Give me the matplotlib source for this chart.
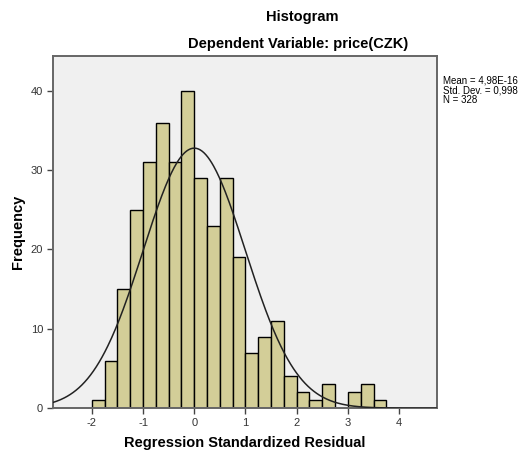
import numpy as np
import matplotlib
matplotlib.use("Agg")
import matplotlib.pyplot as plt

plt.rcParams['font.family'] = ['Liberation Sans', 'DejaVu Sans']

bin_edges_start = -2.0
bin_width = 0.25
counts = [1, 6, 15, 25, 31, 36, 31, 40, 29, 23, 29, 19, 7, 9, 11, 4, 2, 1, 3, 0, 2, 3, 1]
mean = 4.98e-16
sd = 0.998
n = 328
xticks = [-2, -1, 0, 1, 2, 3, 4]
yticks = [0, 10, 20, 30, 40]

fig = plt.figure(figsize=(5.24, 4.55), dpi=100)
ax = fig.add_axes([0.101, 0.103, 0.733, 0.774])
ax.set_facecolor('#f0f0f0')

lefts = bin_edges_start + bin_width * np.arange(len(counts))
ax.bar(lefts, counts, width=bin_width, align='edge', color='#d3ce98',
       edgecolor='black', linewidth=1.0, zorder=2)

xs = np.linspace(-2.76, 4.74, 400)
ys = n * bin_width * np.exp(-0.5 * ((xs - mean) / sd) ** 2) / (sd * np.sqrt(2 * np.pi))
ax.plot(xs, ys, color='#222222', linewidth=1.1, zorder=3)

ax.set_xlim(-2.76, 4.74)
ax.set_ylim(0, 44.4)
ax.set_xticks(xticks)
ax.set_xticklabels([str(t) for t in xticks])
ax.set_yticks(yticks)
ax.tick_params(axis='both', direction='out', length=4, width=1.0, labelsize=8,
               color='#444444', labelcolor='#333333', pad=3)
for s in ax.spines.values():
    s.set_color('#666666')
    s.set_linewidth(1.4)

ax.set_xlabel('Regression Standardized Residual', fontsize=10.5, fontweight='bold', labelpad=6)
ax.set_ylabel('Frequency', fontsize=10.5, fontweight='bold', labelpad=4)

fig.text(0.576, 0.962, 'Histogram', ha='center', va='center', fontsize=10.5, fontweight='bold')
fig.text(0.569, 0.903, 'Dependent Variable: price(CZK)', ha='center', va='center', fontsize=10.5, fontweight='bold')

fig.text(0.846, 0.834, 'Mean = 4,98E-16\nStd. Dev. = 0,998\nN = 328', ha='left', va='top',
         fontsize=7, linespacing=0.95)

fig.savefig('out.png', dpi=100, facecolor='white')
